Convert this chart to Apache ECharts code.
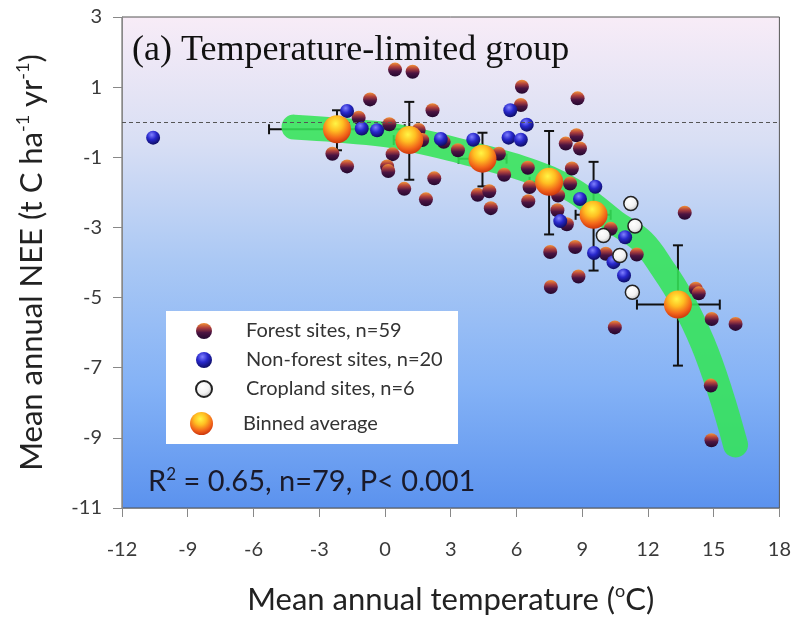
<!DOCTYPE html>
<html>
<head>
<meta charset="utf-8">
<script src="https://cdn.jsdelivr.net/npm/echarts@6/dist/echarts.min.js"></script>
<style>
html, body { margin: 0; padding: 0; background: #fff; }
#chart { width: 794px; height: 623px; }
</style>
</head>
<body>
<div id="chart"></div>
<script>
// values: [temperature, NEE]
var forestSites = [
    [-2.4, -0.9], [-1.73, -1.26], [-1.2, 0.13], [-0.68, 0.65], [0.2, -0.06], [0.35, -0.91],
    [0.1, -1.26], [0.15, -1.39], [0.88, -1.9], [0.46, 1.5], [1.26, 1.44], [1.54, -0.22],
    [1.7, -0.51], [1.87, -2.2], [2.17, 0.34], [2.25, -1.6], [2.68, -0.56], [3.33, -0.8],
    [4.23, -2.07], [4.76, -1.97], [4.83, -2.45], [5.2, -0.9], [5.44, -1.5], [6.2, 0.49],
    [6.25, 1.01], [6.52, -1.3], [6.6, -1.85], [6.54, -2.25], [8.79, 0.68], [8.74, -0.37],
    [8.25, -0.61], [8.9, -0.75], [8.53, -1.32], [8.45, -1.75], [7.9, -2.09], [7.87, -2.51],
    [8.3, -2.91], [10.3, -3.04], [10.08, -3.75], [11.49, -3.77], [7.54, -3.7], [8.68, -3.56],
    [8.83, -4.4], [7.57, -4.7], [10.49, -5.85], [13.68, -2.58], [14.18, -4.75], [14.32, -4.88],
    [14.91, -5.61], [16.0, -5.75], [14.87, -7.51], [14.9, -9.07]
];
var nonForestSites = [
    [-10.58, -0.44], [-1.73, 0.32], [-1.06, -0.18], [-0.36, -0.23], [2.55, -0.48], [4.03, -0.5],
    [5.64, -0.44], [6.2, -0.5], [5.72, 0.34], [6.47, -0.07], [9.6, -1.84], [8.9, -2.19],
    [8.0, -2.82], [10.96, -3.28], [9.54, -3.73], [10.43, -3.99], [10.91, -4.37]
];
var croplandSites = [
    [11.22, -2.32], [11.41, -2.96], [9.97, -3.23], [10.72, -3.8], [11.29, -4.85]
];

// binned averages and their error bars
var binT = [-2.19, 1.11, 4.45, 7.49, 9.52, 13.37];
var binNEE = [-0.2, -0.51, -1.04, -1.7, -2.64, -5.2];
var binTLow = [-5.29, 0.4, 3.36, 6.6, 8.7, 11.5];
var binTHigh = [0.9, 1.87, 5.55, 8.4, 10.3, 15.28];
var binNEELow = [-0.8, -1.64, -1.83, -3.2, -4.23, -6.94];
var binNEEHigh = [0.34, 0.58, -0.3, -0.25, -1.13, -3.51];

// green fitted band (traced)
var bandT = [-4.15, -2.2, 0, 1.1, 3, 4.5, 6.2, 7.5, 8.6, 9.5, 10.5, 11.75, 12.7, 13.5, 14.5, 15.3, 16.0];
var bandNEE = [-0.14, -0.22, -0.35, -0.48, -0.75, -1.0, -1.3, -1.6, -1.95, -2.35, -2.85, -3.4, -4.2, -5.0, -6.3, -7.7, -9.2];

var xTicks = { min: -12, max: 18, step: 3 };
var yTicks = { min: -11, max: 3, step: 2 };

var binData = binT.map(function(t, i) {
    return [t, binNEE[i], binTLow[i], binTHigh[i], binNEELow[i], binNEEHigh[i]];
});
var bandData = bandT.map(function(t, i) { return [t, bandNEE[i]]; });

var labelFont = 'Lato';

// ball-like fills
var forestFill = {
    type: 'linear', x: 0, y: 0, x2: 0, y2: 1,
    colorStops: [
        { offset: 0, color: '#f39236' },
        { offset: 0.3, color: '#b0403c' },
        { offset: 0.6, color: '#4c1442' },
        { offset: 1, color: '#22082e' }
    ]
};
var nonForestFill = {
    type: 'radial', x: 0.4, y: 0.3, r: 0.75,
    colorStops: [
        { offset: 0, color: '#8080ff' },
        { offset: 0.45, color: '#2828cc' },
        { offset: 1, color: '#0a0a58' }
    ]
};
var cropFill = {
    type: 'radial', x: 0.4, y: 0.35, r: 0.7,
    colorStops: [
        { offset: 0, color: '#ffffff' },
        { offset: 0.55, color: '#f2f2f2' },
        { offset: 1, color: '#b4b4b4' }
    ]
};
var binFill = {
    type: 'radial', x: 0.45, y: 0.3, r: 0.75,
    colorStops: [
        { offset: 0, color: '#fff545' },
        { offset: 0.35, color: '#ffbf22' },
        { offset: 0.7, color: '#f2641a' },
        { offset: 1, color: '#c22a08' }
    ]
};

var nameRich = {
    a: { fontFamily: labelFont, fontSize: 31, color: '#222', lineHeight: 36 },
    s: { fontFamily: labelFont, fontSize: 18, color: '#222', verticalAlign: 'top', lineHeight: 18 }
};

var chart = echarts.init(document.getElementById('chart'));

var option = {
    animation: false,
    backgroundColor: '#ffffff',
    title: [{
        text: '(a) Temperature-limited group',
        left: 127,
        top: 28,
        textStyle: { fontFamily: 'Liberation Serif', fontSize: 36, fontWeight: 'normal', color: '#111' }
    }, {
        text: '{r|R}{s|2}{r| = 0.65, n=79, P< 0.001}',
        left: 143,
        top: 461,
        textStyle: {
            fontWeight: 'normal',
            rich: {
                r: { fontFamily: labelFont, fontSize: 29, fontWeight: 'normal', color: '#1a1a2a', lineHeight: 32 },
                s: { fontFamily: labelFont, fontSize: 17, fontWeight: 'normal', color: '#1a1a2a', verticalAlign: 'top', lineHeight: 17 }
            }
        }
    }],
    grid: {
        left: 122,
        right: 14,
        top: 17,
        bottom: 115,
        show: true,
        borderColor: '#555',
        borderWidth: 1,
        backgroundColor: {
            type: 'linear', x: 0, y: 0, x2: 0, y2: 1,
            colorStops: [
                { offset: 0, color: '#f8ecf7' },
                { offset: 0.25, color: '#d9dff4' },
                { offset: 0.5, color: '#aac8f4' },
                { offset: 0.75, color: '#84b2f6' },
                { offset: 1, color: '#5b92ee' }
            ]
        }
    },
    graphic: [{
        type: 'rect',
        left: 166,
        top: 311,
        shape: { width: 292, height: 133 },
        style: { fill: '#ffffff' },
        z: 10
    }],
    legend: [{
        orient: 'vertical',
        left: 195,
        top: 321,
        padding: 0,
        itemGap: 9,
        itemWidth: 16,
        itemHeight: 18,
        z: 11,
        data: ['Forest sites, n=59', 'Non-forest sites, n=20', 'Cropland sites, n=6'],
        textStyle: { fontFamily: labelFont, fontSize: 20, color: '#333', padding: [0, 0, 0, 29] }
    }, {
        left: 190,
        top: 412,
        padding: 0,
        itemWidth: 27,
        itemHeight: 23,
        z: 11,
        data: ['Binned average'],
        textStyle: { fontFamily: labelFont, fontSize: 20, color: '#333', padding: [0, 0, 0, 23] }
    }],
    xAxis: {
        type: 'value',
        min: xTicks.min,
        max: xTicks.max,
        interval: xTicks.step,
        name: '{a|Mean annual temperature (}{s|o}{a|C)}',
        nameLocation: 'middle',
        nameGap: 74,
        nameTextStyle: { rich: nameRich },
        axisLine: { onZero: false, lineStyle: { color: '#888', width: 1 } },
        axisTick: { inside: false, length: 9, lineStyle: { color: '#888' } },
        axisLabel: { fontFamily: labelFont, fontSize: 20, color: '#3a3a3a', margin: 32 },
        splitLine: { show: false }
    },
    yAxis: {
        type: 'value',
        min: yTicks.min,
        max: yTicks.max,
        interval: yTicks.step,
        name: '{a|Mean annual NEE (t C ha}{s|-1}{a| yr}{s|-1}{a|)}',
        nameLocation: 'middle',
        nameGap: 72,
        nameTextStyle: { rich: nameRich },
        axisLine: { show: true, onZero: false, lineStyle: { color: '#888', width: 1 } },
        axisTick: { show: true, inside: false, length: 9, lineStyle: { color: '#888' } },
        axisLabel: { fontFamily: labelFont, fontSize: 20, color: '#3a3a3a', margin: 20 },
        splitLine: { show: false }
    },
    series: [{
        // error bars, drawn first so the band tints them green
        name: 'errorbars',
        type: 'custom',
        data: binData,
        encode: { x: 0, y: 1 },
        silent: true,
        z: 2,
        renderItem: function(params, api) {
            var x = api.value(0), y = api.value(1);
            var top = api.coord([x, api.value(5)]);
            var bot = api.coord([x, api.value(4)]);
            var lft = api.coord([api.value(2), y]);
            var rgt = api.coord([api.value(3), y]);
            var c = 5;
            var st = { stroke: '#111', lineWidth: 2 };
            return {
                type: 'group',
                children: [
                    { type: 'line', shape: { x1: top[0], y1: top[1], x2: bot[0], y2: bot[1] }, style: st },
                    { type: 'line', shape: { x1: top[0] - c, y1: top[1], x2: top[0] + c, y2: top[1] }, style: st },
                    { type: 'line', shape: { x1: bot[0] - c, y1: bot[1], x2: bot[0] + c, y2: bot[1] }, style: st },
                    { type: 'line', shape: { x1: lft[0], y1: lft[1], x2: rgt[0], y2: rgt[1] }, style: st },
                    { type: 'line', shape: { x1: lft[0], y1: lft[1] - c, x2: lft[0], y2: lft[1] + c }, style: st },
                    { type: 'line', shape: { x1: rgt[0], y1: rgt[1] - c, x2: rgt[0], y2: rgt[1] + c }, style: st }
                ]
            };
        }
    }, {
        name: 'band',
        type: 'line',
        data: bandData,
        smooth: 0.4,
        showSymbol: false,
        silent: true,
        z: 3,
        lineStyle: { width: 25, color: 'rgba(52, 228, 88, 0.88)', cap: 'round', join: 'round' }
    }, {
        name: 'Forest sites, n=59',
        type: 'scatter',
        data: forestSites,
        symbolSize: 14,
        z: 4,
        itemStyle: { color: forestFill, opacity: 1 },
        markLine: {
            silent: true,
            symbol: 'none',
            label: { show: false },
            lineStyle: { color: '#555', type: [4, 3], width: 1.2 },
            data: [{ yAxis: 0 }]
        }
    }, {
        name: 'Non-forest sites, n=20',
        type: 'scatter',
        data: nonForestSites,
        symbolSize: 14,
        z: 4,
        itemStyle: { color: nonForestFill, opacity: 1 }
    }, {
        name: 'Cropland sites, n=6',
        type: 'scatter',
        data: croplandSites,
        symbolSize: 14,
        z: 4,
        itemStyle: { color: cropFill, borderColor: '#222', borderWidth: 1.5, opacity: 1 }
    }, {
        name: 'Binned average',
        type: 'scatter',
        data: binData.map(function(d) { return [d[0], d[1]]; }),
        symbolSize: 28,
        z: 5,
        itemStyle: { color: binFill, opacity: 1 }
    }]
};

chart.setOption(option);
</script>
</body>
</html>
